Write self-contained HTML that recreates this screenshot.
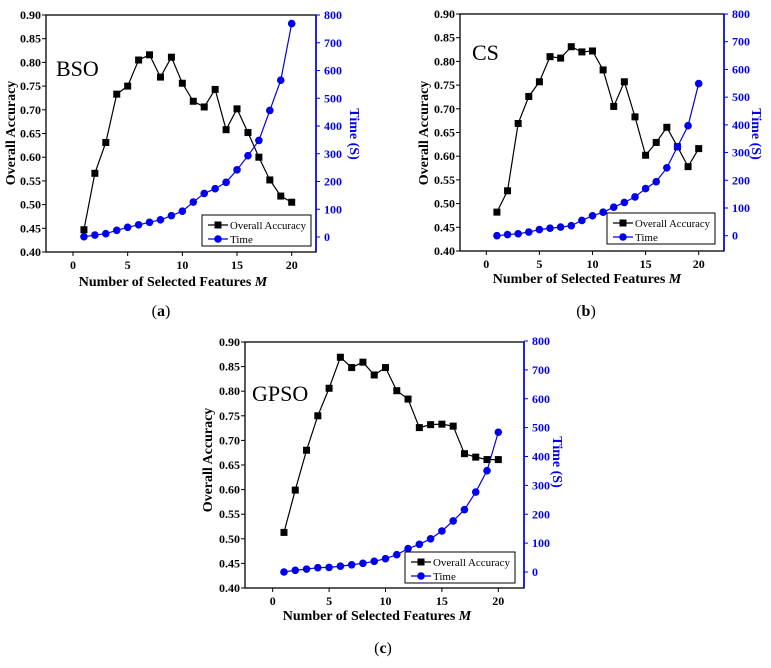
<!DOCTYPE html>
<html><head><meta charset="utf-8"><style>
html,body{margin:0;padding:0;background:#fff;}
svg text{font-family:"Liberation Serif",serif;}
</style></head><body>
<svg id="chart" width="771" height="663" viewBox="0 0 771 663" xmlns="http://www.w3.org/2000/svg"></svg>
<script>
const xCategories = [1,2,3,4,5,6,7,8,9,10,11,12,13,14,15,16,17,18,19,20];
const accBSO = [0.447,0.566,0.631,0.733,0.750,0.805,0.816,0.769,0.811,0.756,0.718,0.706,0.743,0.658,0.702,0.652,0.600,0.552,0.518,0.505];
const timeBSO = [1,7,12,24,35,44,53,62,77,93,126,157,174,197,242,293,348,456,565,769];
const accCS = [0.482,0.527,0.669,0.726,0.757,0.810,0.807,0.831,0.820,0.822,0.782,0.705,0.757,0.683,0.602,0.629,0.661,0.620,0.578,0.616];
const timeCS = [0,4,7,13,22,27,31,36,55,72,85,103,120,140,170,195,245,321,397,549];
const accGPSO = [0.513,0.599,0.680,0.750,0.806,0.869,0.848,0.859,0.833,0.848,0.801,0.784,0.726,0.732,0.733,0.729,0.673,0.666,0.661,0.661];
const timeGPSO = [0,6,10,15,16,20,25,30,37,46,60,81,96,115,142,177,216,277,351,484];
const leftTicks = ["0.40","0.45","0.50","0.55","0.60","0.65","0.70","0.75","0.80","0.85","0.90"];
const rightTicks = ["0","100","200","300","400","500","600","700","800"];
const xTicks = ["0","5","10","15","20"];

const NS="http://www.w3.org/2000/svg";
const svg=document.getElementById('chart');
function mk(tag,attrs,parent,txt){const e=document.createElementNS(NS,tag);for(const k in attrs)e.setAttribute(k,attrs[k]);if(txt!==undefined)e.textContent=txt;(parent||svg).appendChild(e);return e;}

function panel(p){
  const g=mk('g',{});
  
  
  const xS=v=>p.x0+(v)*(p.x20-p.x0)/20;
  const yL=v=>p.bot-(v-0.40)*(p.bot-p.top)/0.5;
  const yR=v=>p.r0-(v)*(p.r0-p.r800)/800;
  const blue='#0000ee';
  let f=mk('rect',{x:p.L,y:p.top,width:p.R-p.L,height:p.bot-p.top,fill:'none',stroke:'#000','stroke-width':1.3},g);
  
  let ra=mk('line',{x1:p.R,y1:p.top,x2:p.R,y2:p.bot,stroke:blue,'stroke-width':1.6},g);
  
  leftTicks.forEach(t=>{const y=yL(parseFloat(t));
    mk('line',{x1:p.L-4,y1:y,x2:p.L,y2:y,stroke:'#000','stroke-width':1},g);
    const tx=mk('text',{x:p.L-5,y:y+4,'text-anchor':'end','font-size':12,'font-weight':'bold'},g,t);
    
  });
  rightTicks.forEach(t=>{const y=yR(parseFloat(t));
    mk('line',{x1:p.R,y1:y,x2:p.R+4,y2:y,stroke:blue,'stroke-width':1},g);
    const tx=mk('text',{x:p.R+8,y:y+4,'text-anchor':'start','font-size':12,'font-weight':'bold',fill:blue},g,t);
    
  });
  xTicks.forEach(t=>{const x=xS(parseFloat(t));
    mk('line',{x1:x,y1:p.bot,x2:x,y2:p.bot+4,stroke:'#000','stroke-width':1},g);
    const tx=mk('text',{x:x,y:p.bot+17,'text-anchor':'middle','font-size':12,'font-weight':'bold'},g,t);
    
  });
  const accPts=xCategories.map((c,i)=>xS(c)+','+yL(p.acc[i])).join(' ');
  let al=mk('polyline',{points:accPts,fill:'none',stroke:'#000','stroke-width':1.2},g);
  
  const tPts=xCategories.map((c,i)=>xS(c)+','+yR(p.time[i])).join(' ');
  let tl=mk('polyline',{points:tPts,fill:'none',stroke:blue,'stroke-width':1.2},g);
  
  xCategories.forEach((c,i)=>{
    const s=mk('rect',{x:xS(c)-3.5,y:yL(p.acc[i])-3.5,width:7,height:7,fill:'#000'},g);
    
  });
  xCategories.forEach((c,i)=>{
    const s=mk('circle',{cx:xS(c),cy:yR(p.time[i]),r:3.8,fill:blue},g);
    
  });
  const lg=mk('g',{},g);
  
  mk('rect',{x:p.lx,y:p.ly,width:p.lw,height:31,fill:'#fff',stroke:'#000','stroke-width':1},lg);
  mk('line',{x1:p.lx+6,y1:p.ly+10,x2:p.lx+26,y2:p.ly+10,stroke:'#000','stroke-width':1.2},lg);
  mk('rect',{x:p.lx+12.5,y:p.ly+6.5,width:7,height:7,fill:'#000'},lg);
  let le1=mk('text',{x:p.lx+28,y:p.ly+14,'font-size':11,textLength:p.lw-33,lengthAdjust:'spacingAndGlyphs'},lg,'Overall Accuracy');
  
  mk('line',{x1:p.lx+6,y1:p.ly+24,x2:p.lx+26,y2:p.ly+24,stroke:blue,'stroke-width':1.2},lg);
  mk('circle',{cx:p.lx+16,cy:p.ly+24,r:3.8,fill:blue},lg);
  let le2=mk('text',{x:p.lx+28,y:p.ly+28,'font-size':11},lg,'Time');
  
  let yt=mk('text',{x:0,y:0,transform:`translate(${p.ytx},${p.yty}) rotate(-90)`,'text-anchor':'middle','font-size':14,'font-weight':'bold'},g,'Overall Accuracy');
  
  let rt=mk('text',{x:0,y:0,transform:`translate(${p.rtx},${p.rty}) rotate(90)`,'text-anchor':'middle','font-size':14,'font-weight':'bold',fill:blue},g,'Time (S)');
  
  let xt=mk('text',{x:p.xtx,y:p.xty,'text-anchor':'middle','font-size':14,'font-weight':'bold'},g);
  
  mk('tspan',{},xt,'Number of Selected Features ');
  mk('tspan',{'font-style':'italic'},xt,'M');
  let nm=mk('text',{x:p.nx,y:p.ny,'font-size':22},g,p.name);
  
  let cap=mk('text',{x:p.cx,y:p.cy,'text-anchor':'middle','font-size':16},g);
  
  mk('tspan',{},cap,'(');mk('tspan',{'font-weight':'bold'},cap,p.id);mk('tspan',{},cap,')');
}
panel({id:'a',name:'BSO',acc:accBSO,time:timeBSO,L:46,R:316,top:15,bot:252,x0:73,x20:291.7,r0:237,r800:15,
  lx:202,ly:215,lw:109,ytx:15,yty:133,rtx:350,rty:134,xtx:173,xty:286,nx:56,ny:76,cx:161,cy:316});
panel({id:'b',name:'CS',acc:accCS,time:timeCS,L:460,R:724,top:14,bot:251,x0:486.3,x20:698.7,r0:235.7,r800:14,
  lx:607,ly:213,lw:108,ytx:428,yty:133,rtx:752,rty:134,xtx:587,xty:283,nx:472,ny:60,cx:586,cy:316});
panel({id:'c',name:'GPSO',acc:accGPSO,time:timeGPSO,L:245,R:524,top:342,bot:588,x0:272.7,x20:498.3,r0:572,r800:341,
  lx:405,ly:552,lw:110,ytx:212,yty:460,rtx:553,rty:462,xtx:377,xty:620,nx:252,ny:401,cx:383,cy:653});
</script>
</body></html>
